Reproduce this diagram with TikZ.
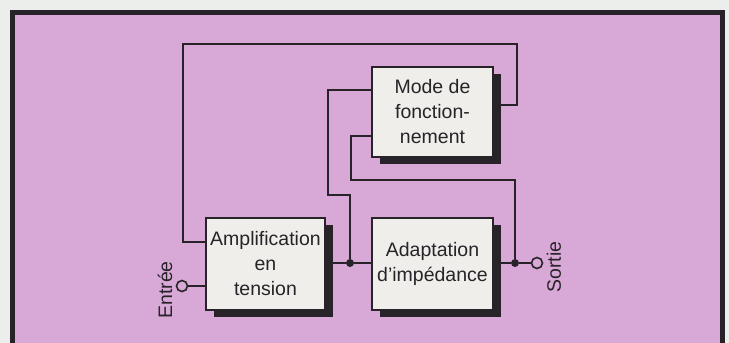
\documentclass[tikz,border=0pt]{standalone}
\usepackage{fontspec}
\setmainfont{Liberation Sans}
\usetikzlibrary{shadows}
\definecolor{pinkbg}{RGB}{216,168,215}
\definecolor{boxfill}{RGB}{240,238,234}
\definecolor{darkc}{RGB}{40,35,40}
\definecolor{paper}{RGB}{236,238,235}
\tikzset{
  blockbox/.style={draw=darkc, line width=1.6pt, fill=boxfill, inner sep=0pt,
    minimum width=119pt, minimum height=92pt, align=center,
    font=\fontsize{19.5}{25}\selectfont, text=darkc,
    drop shadow={shadow xshift=8pt, shadow yshift=-7pt, fill=darkc, opacity=1}},
  wire/.style={draw=darkc, line width=1.8pt},
  dotc/.style={circle, fill=darkc, inner sep=0pt, minimum size=8pt},
  term/.style={circle, draw=darkc, line width=1.6pt, fill=pinkbg, inner sep=0pt, minimum size=11pt},
  lbl/.style={rotate=90, font=\fontsize{19.5}{22}\selectfont, text=darkc}
}
\begin{document}
\begin{tikzpicture}[x=1pt, y=-1pt]
\useasboundingbox (0,0) rectangle (729,343);
\fill[paper] (0,0) rectangle (729,343);
\fill[pinkbg] (12,12) rectangle (722,360);
\draw[darkc, line width=5pt] (12,12) rectangle (722,360);

\node[blockbox] (amp) at (265.5,264) {Amplification\\en\\tension};
\node[blockbox, minimum width=121pt] (adp) at (432.5,264) {Adaptation\\d'impédance};
\node[blockbox, minimum width=121pt, minimum height=90pt] (mode) at (432.5,112) {Mode de\\fonction-\\nement};

\node[dotc] (j1) at (350,263) {};
\node[dotc] (j2) at (515,263) {};
\coordinate (ein) at (182,286);
\coordinate (sout) at (537,263);

% main chain
\draw[wire] (amp.east |- j1) -- (j1) -- (adp.west |- j1);
\draw[wire] (adp.east |- j2) -- (j2) -- (sout);
\draw[wire] (ein) -- (amp.west |- ein);

% feedback loop top
\coordinate (fa) at (206,242);
\coordinate (fb) at (183,242);
\coordinate (fc) at (183,44);
\coordinate (fd) at (517,44);
\coordinate (fe) at (517,105);
\draw[wire] (amp.west |- fa) -- (fb) -- (fc) -- (fd) -- (fe) -- (mode.east |- fe);

% mode to junction 1
\coordinate (ma) at (372,90);
\draw[wire] (mode.west |- ma) -- (328,90) -- (328,195) -- (350,195) -- (j1);

% mode to junction 2
\coordinate (mb) at (372,136);
\draw[wire] (mode.west |- mb) -- (351,136) -- (351,180) -- (515,180) -- (j2);

\node[term] (tin) at (ein) {};
\node[term] (tout) at (sout) {};

\node[lbl] (entree) at (165,290) {Entrée};
\node[lbl] (sortie) at (554,267) {Sortie};
\end{tikzpicture}
\end{document}
